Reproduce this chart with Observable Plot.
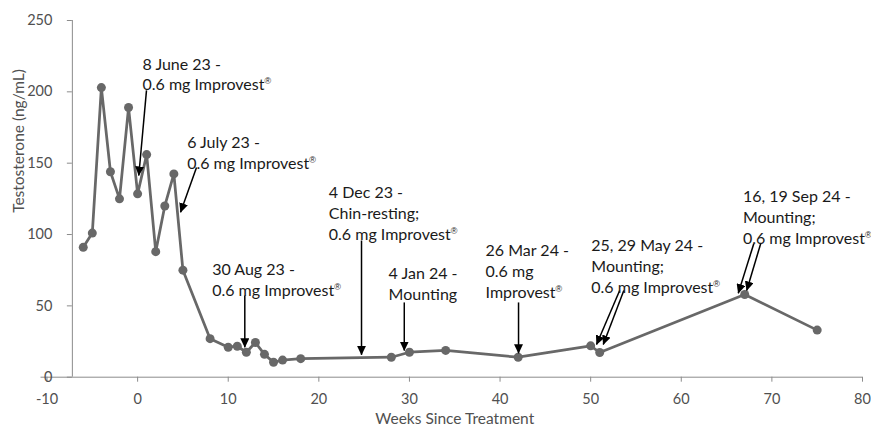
<!DOCTYPE html>
<html>
<head>
<meta charset="utf-8">
<script src="https://cdn.jsdelivr.net/npm/d3@7"></script>
<script src="https://cdn.jsdelivr.net/npm/@observablehq/plot@0.6"></script>
<style>
  html, body { margin: 0; padding: 0; background: #fff; }
  #chart { width: 871px; height: 431px; }
</style>
</head>
<body>
<div id="chart"></div>
<script>
// ---- Data ----
const weeks = [-6, -5, -4, -3, -2, -1, 0, 1, 2, 3, 4, 5, 8, 10, 11, 12, 13, 14, 15, 16, 18, 28, 30, 34, 42, 50, 51, 67, 75];
const testosterone = [91, 101, 203, 144, 125, 189, 128.5, 156, 88, 120, 142.5, 75, 27, 21, 21.7, 17.5, 24.3, 16, 10.5, 12, 13, 14, 17.5, 18.8, 14, 22, 17.3, 58, 33];

const xTicks = [-10, 0, 10, 20, 30, 40, 50, 60, 70, 80];
const yTicks = [0, 50, 100, 150, 200, 250];
const xDomain = [-10, 80];
const yDomain = [0, 250];
const yAxisCrossesAt = -7.2;   // Excel "vertical axis crosses at"

const xTitle = "Weeks Since Treatment";
const yTitle = "Testosterone (ng/mL)";

// Annotation labels, anchored (top-left) in data units
const noteText = [
  "8 June 23 -\n0.6 mg Improvest®",
  "6 July 23 -\n0.6 mg Improvest®",
  "30 Aug 23 -\n0.6 mg Improvest®",
  "4 Dec 23 -\nChin-resting;\n0.6 mg Improvest®",
  "4 Jan 24 -\nMounting",
  "26 Mar 24 -\n0.6 mg\nImprovest®",
  "25, 29 May 24 -\nMounting;\n0.6 mg Improvest®",
  "16, 19 Sep 24 -\nMounting;\n0.6 mg Improvest®"
];
const noteX = [0.54, 5.47, 8.23, 21.1, 27.7, 38.4, 50.07, 66.8];
const noteY = [226, 171, 81.7, 136, 79.3, 95.2, 98.7, 133];

// Arrows (start -> tip) in data units
const arrowX1 = [0.98, 6.5, 11.83, 24.71, 29.43, 42.04, 53.2, 53.66, 68.0, 68.76];
const arrowY1 = [201, 147, 57.3, 95.8, 52.4, 52.4, 60.8, 60.8, 93.5, 93.5];
const arrowX2 = [0.13, 4.74, 11.83, 24.71, 29.43, 42.04, 50.65, 51.39, 66.29, 67.22];
const arrowY2 = [141.4, 115.6, 21, 15.7, 18.7, 16.8, 22.9, 22.9, 58.9, 60.8];

// ---- Tables built from the arrays ----
const points = weeks.map((w, i) => ({week: w, t: testosterone[i]}));
const notes = noteText.map((s, i) => ({text: s, x: noteX[i], y: noteY[i]}));
const arrows = arrowX1.map((x1, i) => ({x1, y1: arrowY1[i], x2: arrowX2[i], y2: arrowY2[i]}));

// ---- Layout ----
const W = 871, H = 431;
const marginLeft = 46.5, marginRight = 9, marginTop = 20, marginBottom = 54.3;
const plotW = W - marginLeft - marginRight;
const yAxisDx = (yAxisCrossesAt - xDomain[0]) / (xDomain[1] - xDomain[0]) * plotW;

const seriesColor = "#686868";
const axisColor = "#8c8c8c";
const labelColor = "#505050";

function arrowHead(color, context) {
  const ns = "http://www.w3.org/2000/svg";
  const doc = (context && context.document) || document;
  const m = doc.createElementNS(ns, "marker");
  m.setAttribute("viewBox", "-9 -4.5 9.5 9");
  m.setAttribute("markerWidth", 9.5);
  m.setAttribute("markerHeight", 9);
  m.setAttribute("markerUnits", "userSpaceOnUse");
  m.setAttribute("refX", 0);
  m.setAttribute("refY", 0);
  m.setAttribute("orient", "auto");
  const p = doc.createElementNS(ns, "path");
  p.setAttribute("d", "M-9,-4.5L0.5,0L-9,4.5Z");
  p.setAttribute("fill", color);
  p.setAttribute("stroke", "none");
  m.appendChild(p);
  return m;
}

const chart = Plot.plot({
  width: W,
  height: H,
  marginLeft, marginRight, marginTop, marginBottom,
  style: {fontFamily: "Lato, 'Open Sans', sans-serif", fontSize: "14px", background: "#fff"},
  x: {domain: xDomain, label: null},
  y: {domain: yDomain, label: null},
  marks: [
    // axes
    Plot.ruleY([yDomain[0]], {stroke: axisColor, strokeWidth: 1, insetLeft: -6}),
    Plot.ruleX([yAxisCrossesAt], {stroke: axisColor, strokeWidth: 1}),
    Plot.axisX({ticks: xTicks, tickSize: 5, tickPadding: 12, tickFormat: d => String(d), stroke: axisColor, color: labelColor, fontSize: 14.5, label: null}),
    Plot.axisY({ticks: yTicks, tickSize: 5, tickPadding: 15, dx: yAxisDx, tickFormat: d => String(d), stroke: axisColor, color: labelColor, fontSize: 14.5, label: null}),
    Plot.text([xTitle], {frameAnchor: "bottom", dy: 47, fontSize: 15.5, fill: labelColor}),
    Plot.text([yTitle], {frameAnchor: "left", dx: -27.5, dy: 14, rotate: -90, fontSize: 15.5, fill: labelColor}),
    // series
    Plot.line(points, {x: "week", y: "t", stroke: seriesColor, strokeWidth: 2.75}),
    Plot.dot(points, {x: "week", y: "t", r: 4.5, fill: seriesColor, stroke: "none"}),
    // annotations
    Plot.link(arrows, {x1: "x1", y1: "y1", x2: "x2", y2: "y2", stroke: "#000", strokeWidth: 1.5, markerEnd: arrowHead}),
    Plot.text(notes, {x: "x", y: "y", text: "text", textAnchor: "start", lineAnchor: "top", lineHeight: 1.3, fontSize: 16, fill: "#1a1a1a"})
  ]
});

// Render the ® as a small superscript, as in the reference
chart.querySelectorAll("tspan, text").forEach(el => {
  if (el.childElementCount === 0 && el.textContent.includes("®")) {
    const parts = el.textContent.split("®");
    el.textContent = parts[0];
    const sup = document.createElementNS("http://www.w3.org/2000/svg", "tspan");
    sup.setAttribute("font-size", "9");
    sup.setAttribute("font-family", "'Liberation Sans', 'DejaVu Sans', sans-serif");
    sup.setAttribute("dy", "-6");
    sup.setAttribute("fill", "#1a1a1a");
    sup.textContent = "\u00AE\uFE0E";
    el.appendChild(sup);
  }
});

document.getElementById("chart").appendChild(chart);
</script>
</body>
</html>
